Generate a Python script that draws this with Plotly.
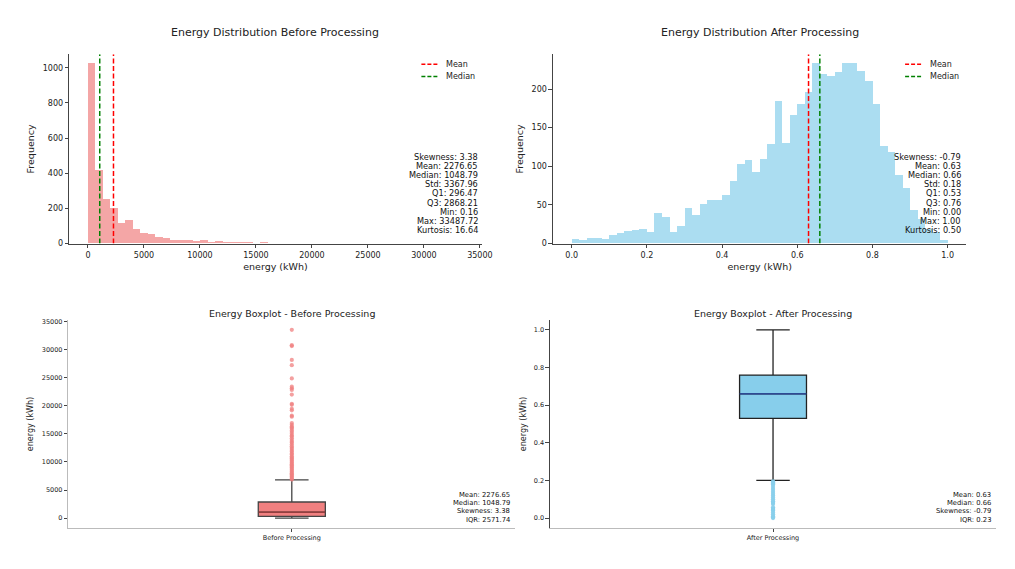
import numpy as np
import plotly.graph_objects as go

W, H = 1015, 569

# ---- data ----
before_min, before_max = 0.16, 33487.72
before_counts = [1026, 416, 254, 203, 118, 131, 80, 58, 52, 35,
                 30, 19, 20, 20, 15, 19, 9, 13, 9, 6,
                 9, 7, 4, 9, 3, 3, 3, 4, 3, 2,
                 2, 1, 1, 2, 3, 1, 0, 1, 0, 0,
                 1, 1, 0, 0, 0, 2, 0, 0, 0, 1]
before_mean, before_median = 2276.65, 1048.79
before_stats = ["Skewness: 3.38", "Mean: 2276.65", "Median: 1048.79", "Std: 3367.96",
                "Q1: 296.47", "Q3: 2868.21", "Min: 0.16", "Max: 33487.72", "Kurtosis: 16.64"]

after_min, after_max = 0.0, 1.0
after_counts = [6, 4, 7, 7, 5, 11, 13, 16, 17, 18,
                14, 39, 34, 15, 22, 46, 36, 51, 56, 56,
                63, 80, 102, 108, 92, 109, 129, 184, 130, 166,
                180, 196, 233, 219, 217, 222, 233, 233, 223, 210,
                180, 126, 118, 88, 72, 43, 31, 19, 14, 4]
after_mean, after_median = 0.63, 0.66
after_stats = ["Skewness: -0.79", "Mean: 0.63", "Median: 0.66", "Std: 0.18",
               "Q1: 0.53", "Q3: 0.76", "Min: 0.00", "Max: 1.00", "Kurtosis: 0.50"]

box_before = dict(q1=296.47, median=1048.79, q3=2868.21, lower=0.16, upper=6790)
outliers_before = [33490, 30770, 30600, 28140, 27200, 24850, 23390, 23100, 22800, 21980,
                   20340, 20160, 19460, 19170, 18230, 18050, 16900, 16600, 16300, 16100,
                   15900, 15600, 15300, 15000, 14700, 14500, 14200, 13900, 13600, 13400,
                   13100, 12800, 12500, 12300, 12000, 11800, 11500, 11300, 11000, 10800,
                   10600, 10400, 10200, 10000, 9800, 9600, 9400, 9200, 9000, 8800,
                   8600, 8400, 8200, 8000, 7800, 7600, 7400, 7200, 7000, 6850]
box_stats_before = ["Mean: 2276.65", "Median: 1048.79", "Skewness: 3.38", "IQR: 2571.74"]

box_after = dict(q1=0.53, median=0.66, q3=0.76, lower=0.20, upper=1.00)
outliers_after = [0.195, 0.19, 0.185, 0.18, 0.17, 0.16, 0.15, 0.14, 0.13, 0.12,
                  0.11, 0.10, 0.09, 0.085, 0.08, 0.075, 0.058, 0.05, 0.045, 0.04,
                  0.03, 0.02, 0.01, 0.005, 0.0]
box_stats_after = ["Mean: 0.63", "Median: 0.66", "Skewness: -0.79", "IQR: 0.23"]

FONT = "DejaVu Sans"
DASH = "5px,2.5px"


def px_x(p):
    return p / W


def px_y(p):
    return 1 - p / H


fig = go.Figure()

# ---- histograms ----
def add_hist(counts, lo, hi, color, mean, median, ytop, xa, ya):
    edges = np.linspace(lo, hi, len(counts) + 1)
    centers = (edges[:-1] + edges[1:]) / 2
    fig.add_trace(go.Bar(x=centers, y=counts, width=edges[1] - edges[0],
                         marker=dict(color=color, line=dict(width=0)),
                         showlegend=False, xaxis=xa, yaxis=ya))
    fig.add_trace(go.Scatter(x=[mean, mean], y=[0, ytop], mode="lines",
                             line=dict(color="red", dash=DASH, width=1.5),
                             showlegend=False, xaxis=xa, yaxis=ya))
    fig.add_trace(go.Scatter(x=[median, median], y=[0, ytop], mode="lines",
                             line=dict(color="green", dash=DASH, width=1.5),
                             showlegend=False, xaxis=xa, yaxis=ya))


add_hist(before_counts, before_min, before_max, "rgba(240,128,128,0.7)",
         before_mean, before_median, 1077, "x", "y")
add_hist(after_counts, after_min, after_max, "rgba(135,206,235,0.7)",
         after_mean, after_median, 245, "x2", "y2")

# ---- boxplots ----
BOX_W = 0.15


def add_box(b, outliers, fill, edge, med_color, pt_color, xa, ya):
    fig.add_trace(go.Box(x=[0], q1=[b["q1"]], median=[b["median"]], q3=[b["q3"]],
                         lowerfence=[b["lower"]], upperfence=[b["upper"]],
                         width=BOX_W, whiskerwidth=0.5, boxpoints=False,
                         fillcolor=fill, line=dict(color=edge, width=1.3),
                         showlegend=False, xaxis=xa, yaxis=ya))
    fig.add_trace(go.Scatter(x=[-BOX_W / 2, BOX_W / 2], y=[b["median"]] * 2, mode="lines",
                             line=dict(color=med_color, width=1.2),
                             showlegend=False, xaxis=xa, yaxis=ya))
    fig.add_trace(go.Scatter(x=[0] * len(outliers), y=outliers, mode="markers",
                             marker=dict(color=pt_color, size=4.2),
                             showlegend=False, xaxis=xa, yaxis=ya))


add_box(box_before, outliers_before, "#F08080", "#444444", "#a03838",
        "rgba(240,128,128,0.75)", "x3", "y3")
add_box(box_after, outliers_after, "#87CEEB", "#222222", "#2a4aa8",
        "rgba(135,206,235,0.9)", "x4", "y4")

# ---- axes ----
ax = dict(showgrid=False, zeroline=False, showline=True, linecolor="#444", linewidth=1,
          ticks="outside", ticklen=3.5, tickcolor="#444", tickwidth=1)
top_tick = dict(size=8, color="#222", family=FONT)
low_tick = dict(size=6.5, color="#222", family=FONT)
top_lbl = dict(size=9.5, family=FONT, color="#222")
low_lbl = dict(size=8, family=FONT, color="#222")
top_y = [px_y(244), px_y(52)]
low_y = [px_y(532), px_y(322)]

fig.update_layout(
    xaxis=dict(ax, domain=[px_x(70), px_x(487)], range=[-1674, 35162], anchor="y",
               dtick=5000, tick0=0, tickformat="d", tickfont=top_tick,
               title=dict(text="energy (kWh)", font=top_lbl, standoff=4)),
    yaxis=dict(ax, domain=top_y, range=[0, 1077], anchor="x", dtick=200, tickfont=top_tick,
               title=dict(text="Frequency", font=top_lbl, standoff=6)),
    xaxis2=dict(ax, domain=[px_x(559), px_x(977)], range=[-0.05, 1.05], anchor="y2",
                dtick=0.2, tick0=0, tickformat=".1f", tickfont=top_tick,
                title=dict(text="energy (kWh)", font=top_lbl, standoff=4)),
    yaxis2=dict(ax, domain=top_y, range=[0, 245], anchor="x2", dtick=50, tickfont=top_tick,
                title=dict(text="Frequency", font=top_lbl, standoff=6)),
    xaxis3=dict(ax, domain=[px_x(69), px_x(521)], range=[-0.5, 0.5], anchor="y3",
                tickvals=[0], ticktext=["Before Processing"], tickfont=low_tick, linecolor="#bbb"),
    yaxis3=dict(ax, domain=low_y, range=[-1674, 35162], anchor="x3", dtick=5000, tickformat="d",
                tickfont=low_tick, linecolor="#bbb",
                title=dict(text="energy (kWh)", font=low_lbl, standoff=6)),
    xaxis4=dict(ax, domain=[px_x(556), px_x(1007)], range=[-0.5, 0.5], anchor="y4",
                tickvals=[0], ticktext=["After Processing"], tickfont=low_tick, linecolor="#bbb"),
    yaxis4=dict(ax, domain=low_y, range=[-0.05, 1.05], anchor="x4", dtick=0.2, tickformat=".1f",
                tickfont=low_tick,
                title=dict(text="energy (kWh)", font=low_lbl, standoff=6)),
    bargap=0,
    width=W, height=H,
    margin=dict(l=0, r=0, t=0, b=0),
    paper_bgcolor="white", plot_bgcolor="white",
    font=dict(family=FONT, color="#222"),
    showlegend=False,
)

# ---- legends drawn by hand (short dashed samples + labels) ----
for left in (426, 915):
    for row, (label, color) in enumerate([("Mean", "red"), ("Median", "green")]):
        yy = px_y(62 + row * 12.5)
        fig.add_shape(type="line", xref="paper", yref="paper",
                      x0=px_x(left), x1=px_x(left + 17), y0=yy, y1=yy,
                      line=dict(color=color, dash="4px,2px", width=1.5))
        fig.add_annotation(text=label, x=px_x(left + 23), y=yy, xref="paper", yref="paper",
                           xanchor="left", yanchor="middle", showarrow=False,
                           font=dict(size=8, family=FONT, color="#222"))

# ---- titles ----
titles = [("Energy Distribution Before Processing", 278.5, 30, 11),
          ("Energy Distribution After Processing", 768, 30, 11),
          ("Energy Boxplot - Before Processing", 295, 315, 9.5),
          ("Energy Boxplot - After Processing", 781, 315, 9.5)]
for text, cx, cy, size in titles:
    fig.add_annotation(text=text, x=px_x(cx), y=px_y(cy), xref="paper", yref="paper",
                       xanchor="center", yanchor="middle", showarrow=False,
                       font=dict(size=size, family=FONT, color="#222"))

# ---- stats text blocks ----
blocks = [(before_stats, 485, 156, 9.3, 8.2),
          (after_stats, 974, 156, 9.3, 8.2),
          (box_stats_before, 518, 499, 8.3, 6.8),
          (box_stats_after, 1004, 499, 8.3, 6.8)]
for lines, right, top, step, size in blocks:
    for i, line in enumerate(lines):
        fig.add_annotation(text=line, x=px_x(right), y=px_y(top + i * step),
                           xref="paper", yref="paper", xanchor="right", yanchor="middle",
                           showarrow=False, font=dict(size=size, family=FONT, color="#111"))

# pin the plot to the top-left corner of the page so nothing else adds to the page size
pin = ("var gd=document.getElementById('{plot_id}');"
       "gd.style.position='fixed';gd.style.left='0px';gd.style.top='0px';"
       "document.body.style.margin='0px';")
fig.write_html("out.html", config={"displayModeBar": False}, post_script=pin)
